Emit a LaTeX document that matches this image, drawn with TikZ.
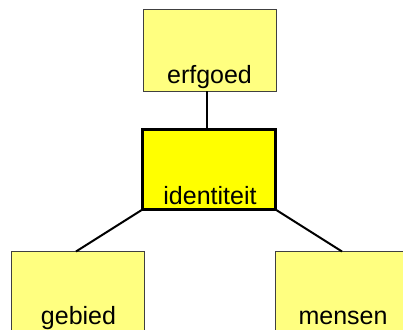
\documentclass[tikz,border=0pt]{standalone}
\usepackage{fontspec}
\setmainfont{Liberation Sans}
\definecolor{lightyel}{HTML}{FFFF80}
\definecolor{mainyel}{HTML}{FFFF00}
\definecolor{boxgray}{HTML}{404040}
\tikzset{
  px/.style={x=1pt,y=-1pt},
  lightbox/.style={draw=boxgray,line width=1pt,fill=lightyel,minimum width=133pt,minimum height=81pt,inner sep=0pt,outer sep=0pt},
  mainbox/.style={draw=black,line width=3pt,fill=mainyel,minimum width=133pt,minimum height=80pt,inner sep=0pt,outer sep=0pt},
  lbl/.style={anchor=base,inner sep=0pt,font=\fontsize{25}{25}\selectfont},
  conn/.style={draw=black,line width=2pt}
}
\begin{document}
\begin{tikzpicture}[px]
\useasboundingbox (0,0) rectangle (403,329);
\node[lightbox] (erf) at (209.5,50.5) {};
\node[mainbox] (id) at (209,169.5) {};
\node[lightbox] (geb) at (77.5,292) {};
\node[lightbox] (men) at (341.5,292) {};
\node[lbl] (erft) at (209.5,83) {erfgoed};
\node[lbl] (idt) at (210,204) {identiteit};
\node[lbl] (gebt) at (78.5,324) {gebied};
\node[lbl] (ment) at (343,324) {mensen};
\draw[conn] ([xshift=-2.5pt]erf.south) -- ([xshift=-2pt]id.north);
\draw[conn] (id.south west) -- ([xshift=-1.5pt]geb.north);
\draw[conn] (id.south east) -- ([xshift=0.5pt]men.north);
\end{tikzpicture}
\end{document}
